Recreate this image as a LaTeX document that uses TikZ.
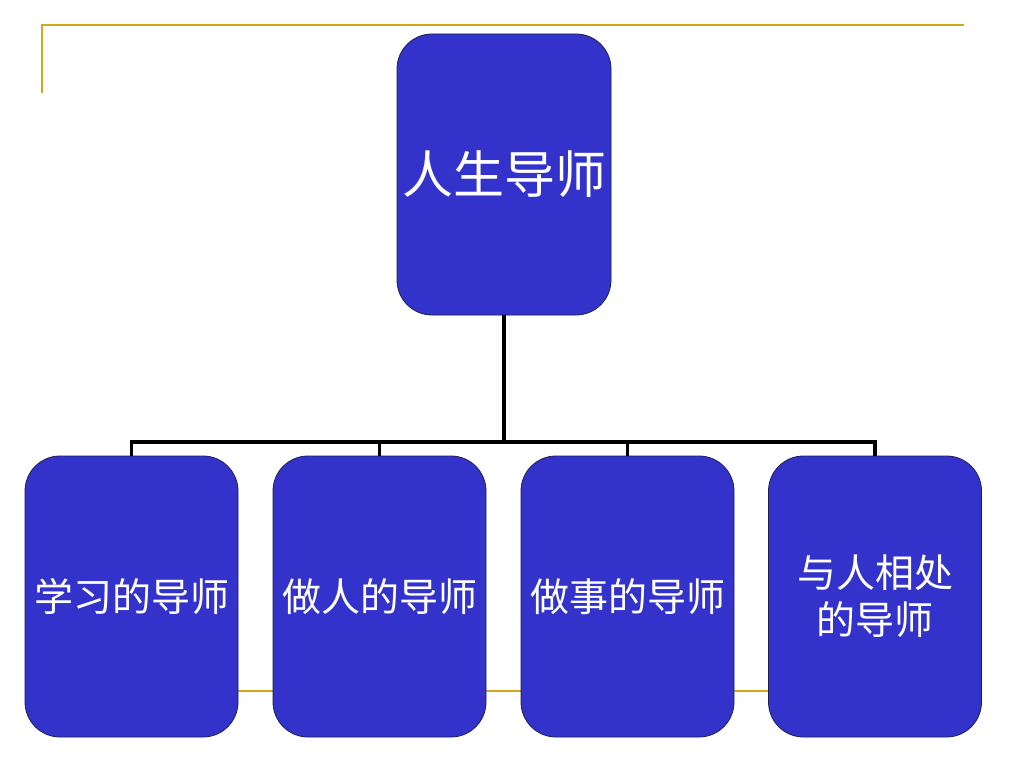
\documentclass[tikz,border=0pt]{standalone}
\usepackage{fontspec}
\newfontfamily\cjk{Noto Sans CJK SC}
\definecolor{boxblue}{RGB}{51,51,204}
\definecolor{gold}{RGB}{214,166,30}
\definecolor{edge}{RGB}{30,30,80}
\tikzset{
  mbox/.style={draw=edge, line width=0.8pt, fill=boxblue, rounded corners=35pt,
    minimum width=213pt, minimum height=281pt, inner sep=0pt, text=white,
    align=center, font=\cjk\fontsize{39pt}{47pt}\selectfont},
  topbox/.style={mbox, minimum width=214pt, font=\cjk\fontsize{51pt}{60pt}\selectfont},
  conn/.style={draw=black, line width=3.2pt},
  deco/.style={draw=gold, line width=2pt}
}
\begin{document}
\begin{tikzpicture}[x=1pt,y=-1pt]
\useasboundingbox (0,0) rectangle (1024,768);
\fill[white] (0,0) rectangle (1024,768);
% decorative lines
\coordinate (tl) at (42,93);
\coordinate (tc) at (42,25);
\coordinate (tr) at (964,25);
\draw[deco] (tl) -- (tc) -- (tr);
\coordinate (bl) at (42,691);
\coordinate (br) at (963,691);
\draw[deco] (bl) -- (br);
% nodes
\node[topbox] (top) at (504,174.5) {\raisebox{-2pt}{人生导师}};
\coordinate (bus) at (0,442);
\node[mbox] (b1) at (131.5,596.5) {\raisebox{-3pt}{学习的导师}};
\node[mbox] (b2) at (379.5,596.5) {\raisebox{-3pt}{做人的导师}};
\node[mbox] (b3) at (627.5,596.5) {\raisebox{-3pt}{做事的导师}};
\node[mbox] (b4) at (875,596.5) {与人相处\\的导师};
% connectors
\draw[conn] (top.south) -- (top.south |- bus);
\draw[conn] (b1.north) -- (b1.north |- bus) -- (b4.north |- bus) -- (b4.north);
\draw[conn] (b2.north) -- (b2.north |- bus);
\draw[conn] (b3.north) -- (b3.north |- bus);
\end{tikzpicture}
\end{document}
